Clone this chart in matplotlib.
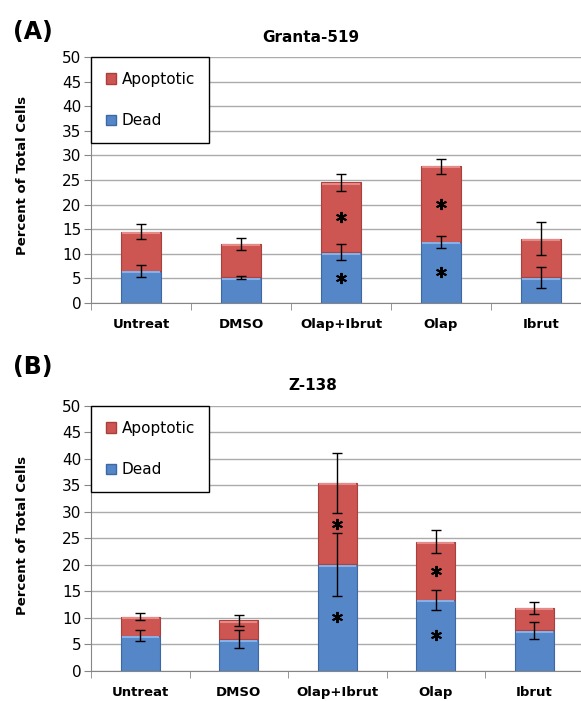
import numpy as np
import matplotlib.pyplot as plt
from matplotlib.patches import Patch

categories = ['Untreat', 'DMSO', 'Olap+Ibrut', 'Olap', 'Ibrut']

# (A) Granta-519
a_dead = [6.5, 5.2, 10.3, 12.4, 5.2]
a_total = [14.5, 12.0, 24.5, 27.8, 13.1]
a_dead_err = [1.25, 0.3, 1.65, 1.3, 2.1]
a_total_err = [1.5, 1.3, 1.8, 1.5, 3.3]
a_dead_sig = [False, False, True, True, False]
a_apop_sig = [False, False, True, True, False]

# (B) Z-138
b_dead = [6.6, 5.9, 20.1, 13.4, 7.6]
b_total = [10.2, 9.5, 35.5, 24.4, 11.9]
b_dead_err = [1.0, 1.7, 5.9, 1.9, 1.55]
b_total_err = [0.7, 1.1, 5.7, 2.1, 1.1]
b_dead_sig = [False, False, True, True, False]
b_apop_sig = [False, False, True, True, False]

red = '#CD5552'
red_edge = '#A8403D'
red_light = '#E58A86'
blue = '#5486C8'
blue_edge = '#3E68A3'
blue_light = '#86B0E6'

W, H = 581, 701
plt.rcParams['font.family'] = 'DejaVu Sans'

fig = plt.figure(figsize=(W / 100, H / 100), dpi=100)


def draw_panel(ax, dead, total, dead_err, total_err, dead_sig, apop_sig):
    x = np.arange(len(categories))
    dead = np.array(dead)
    total = np.array(total)
    apop = total - dead
    w = 0.4

    ax.set_axisbelow(True)
    ax.yaxis.grid(True, color='#ABABAB', lw=1)

    ax.bar(x, dead, w, color=blue, edgecolor=blue_edge, lw=0.8, zorder=2)
    ax.bar(x, apop, w, bottom=dead, color=red, edgecolor=red_edge, lw=0.8, zorder=2)
    # light bevel strip at the top of each segment
    ax.hlines(dead - 0.25, x - w / 2 + 0.01, x + w / 2 - 0.01, color=blue_light, lw=1.5, zorder=3)
    ax.hlines(total - 0.25, x - w / 2 + 0.01, x + w / 2 - 0.01, color=red_light, lw=1.5, zorder=3)

    ax.errorbar(x, dead, yerr=dead_err, fmt='none', ecolor='black', elinewidth=1,
                capsize=3.5, capthick=1, zorder=4)
    ax.errorbar(x, total, yerr=total_err, fmt='none', ecolor='black', elinewidth=1,
                capsize=3.5, capthick=1, zorder=4)

    # significance asterisks in the middle of the segments
    ds = np.array(dead_sig)
    aps = np.array(apop_sig)
    ax.plot(x[ds], dead[ds] / 2, ls='none', marker=(6, 2, 0), ms=8, mew=1.4,
            color='black', zorder=5)
    ax.plot(x[aps], (dead[aps] + total[aps]) / 2, ls='none', marker=(6, 2, 0), ms=8,
            mew=1.4, color='black', zorder=5)

    ax.set_xlim(-0.5, len(categories) - 0.5)
    ax.set_ylim(0, 50)
    ax.set_yticks(np.arange(0, 51, 5))
    ax.set_xticks(x)
    ax.set_xticklabels(categories, fontsize=9.5, fontweight='bold')
    ax.set_xticks(np.arange(len(categories) + 1) - 0.5, minor=True)
    ax.tick_params(axis='x', which='major', length=0, pad=11)
    ax.tick_params(axis='x', which='minor', length=5, color='#868686')
    ax.tick_params(axis='y', length=5, color='#868686', labelsize=11, pad=2)

    for s in ['top', 'right']:
        ax.spines[s].set_visible(False)
    ax.spines['left'].set_color('#868686')
    ax.spines['bottom'].set_color('#868686')

    handles = [Patch(facecolor=red, edgecolor=red_edge, label='Apoptotic'),
               Patch(facecolor=blue, edgecolor=blue_edge, label='Dead')]
    leg = ax.legend(handles=handles, loc='upper left', bbox_to_anchor=(0, 1),
                    borderaxespad=0, fontsize=11, labelspacing=1.75,
                    handlelength=0.7, handleheight=0.7, handletextpad=0.35,
                    borderpad=0.95, fancybox=False, framealpha=1)
    leg.get_frame().set_edgecolor('black')
    leg.get_frame().set_linewidth(1)


axA = fig.add_axes([91 / W, (H - 303) / H, 500 / W, 246 / H])
draw_panel(axA, a_dead, a_total, a_dead_err, a_total_err, a_dead_sig, a_apop_sig)

axB = fig.add_axes([91 / W, (H - 670.7) / H, 492.5 / W, 264.7 / H])
draw_panel(axB, b_dead, b_total, b_dead_err, b_total_err, b_dead_sig, b_apop_sig)

# panel letters, titles and y labels
fig.text(13 / W, 1 - 32 / H, '(A)', fontsize=17, fontweight='bold', va='center')
fig.text(13 / W, 1 - 367 / H, '(B)', fontsize=17, fontweight='bold', va='center')
fig.text(311 / W, 1 - 38 / H, 'Granta-519', fontsize=11, fontweight='bold',
         ha='center', va='center')
fig.text(313 / W, 1 - 386 / H, 'Z-138', fontsize=11, fontweight='bold',
         ha='center', va='center')
fig.text(23 / W, 1 - 175 / H, 'Percent of Total Cells', fontsize=9.5, fontweight='bold',
         rotation=90, ha='center', va='center')
fig.text(23 / W, 1 - 535 / H, 'Percent of Total Cells', fontsize=9.5, fontweight='bold',
         rotation=90, ha='center', va='center')

fig.savefig('out.png', dpi=100)
